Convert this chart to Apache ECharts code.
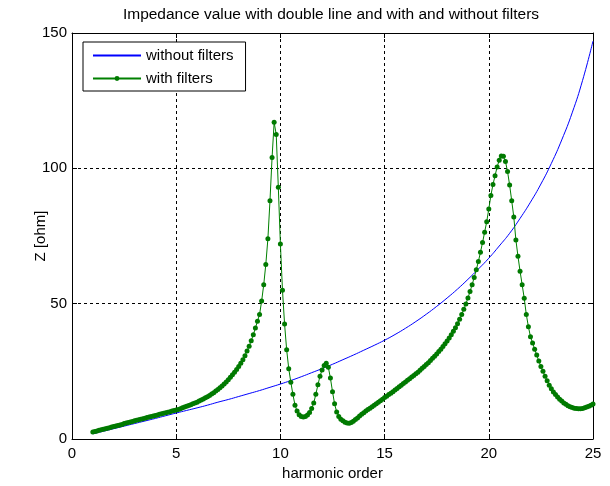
<!DOCTYPE html>
<html><head><meta charset="utf-8">
<script src="https://cdn.jsdelivr.net/npm/echarts@6/dist/echarts.min.js"></script>
<style>html,body{margin:0;padding:0;background:#fff}#c{width:610px;height:486px}</style>
</head><body><div id="c"></div>
<script>
const titleText = 'Impedance value with double line and with and without filters';
const xAxisName = 'harmonic order';
const yAxisName = 'Z [ohm]';
const seriesNames = ['without filters', 'with filters'];
const xTicks = [0, 5, 10, 15, 20, 25];
const yTicks = [0, 50, 100, 150];

// harmonic orders 1..25, step 0.5
const blueStart = 1, blueStep = 0.5;
const zWithoutFilters = [
  1.9, 2.85, 3.8, 4.75, 5.7, 6.65, 7.6, 8.6, 9.6, 10.55,
  11.5, 12.5, 13.6, 14.6, 15.7, 16.8, 17.9, 19.1, 20.3, 21.6,
  23.0, 24.5, 26.0, 27.6, 29.3, 31.0, 32.8, 34.6, 36.5, 38.6,
  40.9, 43.4, 46.1, 49.0, 52.1, 55.4, 59.0, 62.8, 66.8, 71.3,
  76.0, 81.5, 87.5, 94.2, 101.8, 110.5, 120.5, 132.5, 147.0
];

// harmonic orders 1..25, step 0.1
const greenStart = 1, greenStep = 0.1;
const zWithFilters = [
  2.6, 2.8, 3.0, 3.2, 3.4, 3.6, 3.8, 4.0, 4.2, 4.4,
  4.6, 4.8, 5.0, 5.2, 5.4, 5.7, 5.9, 6.1, 6.3, 6.5,
  6.7, 6.9, 7.1, 7.3, 7.5, 7.7, 7.9, 8.1, 8.3, 8.5,
  8.7, 8.9, 9.1, 9.3, 9.5, 9.7, 9.9, 10.1, 10.3, 10.5,
  10.7, 10.9, 11.2, 11.5, 11.8, 12.1, 12.4, 12.7, 13.0, 13.3,
  13.6, 14.0, 14.4, 14.8, 15.2, 15.6, 16.1, 16.6, 17.1, 17.7,
  18.3, 18.9, 19.6, 20.3, 21.1, 21.9, 22.8, 23.7, 24.7, 25.7,
  26.8, 28.0, 29.3, 30.8, 32.5, 34.3, 36.3, 38.5, 41.0, 43.5,
  46.0, 51.0, 57.0, 64.5, 74.0, 88.0, 104.0, 117.0, 112.5, 93.0,
  72.0, 55.0, 42.5, 33.0, 26.0, 21.0, 16.5, 12.5, 10.3, 9.0,
  8.3, 8.1, 8.3, 8.9, 9.8, 11.3, 13.3, 16.5, 20.0, 23.2,
  25.5, 27.2, 28.0, 26.5, 22.5, 17.5, 13.0, 10.0, 8.3, 7.3,
  6.7, 6.2, 5.9, 5.8, 6.1, 6.6, 7.2, 7.8, 8.5, 9.1,
  9.7, 10.3, 10.9, 11.4, 11.9, 12.5, 13.0, 13.6, 14.1, 14.7,
  15.3, 15.8, 16.4, 16.9, 17.5, 18.1, 18.7, 19.3, 19.9, 20.5,
  21.1, 21.7, 22.3, 22.9, 23.5, 24.1, 24.7, 25.4, 26.1, 26.8,
  27.5, 28.2, 29.0, 29.8, 30.6, 31.4, 32.3, 33.2, 34.2, 35.2,
  36.2, 37.3, 38.5, 39.8, 41.1, 42.6, 44.2, 46.0, 47.9, 49.9,
  52.1, 54.5, 57.0, 59.7, 62.5, 65.6, 69.0, 72.6, 76.4, 80.3,
  85.0, 90.0, 94.0, 97.3, 100.5, 103.0, 104.6, 104.5, 102.5, 98.8,
  93.8, 88.0, 82.0, 73.5, 67.5, 62.0, 57.0, 52.0, 46.0, 41.5,
  37.8, 35.5, 33.2, 31.0, 28.8, 26.8, 25.0, 23.2, 21.5, 19.9,
  18.6, 17.4, 16.4, 15.5, 14.7, 14.0, 13.3, 12.8, 12.3, 11.9,
  11.6, 11.4, 11.3, 11.2, 11.2, 11.3, 11.5, 11.8, 12.1, 12.5,
  12.9
];

function pairs(start, step, vals) {
  return vals.map((v, i) => [Math.round((start + i * step) * 100) / 100, v]);
}

const FONT = '"Liberation Sans", Arial, Helvetica, sans-serif';
const FS = 15;
const black = '#000';
const blue = '#0000ff';
const green = '#008000';
const greenDot = '#007a00';
const xMin = xTicks[0], xMax = xTicks[xTicks.length - 1], xInt = xTicks[1] - xTicks[0];
const yMin = yTicks[0], yMax = yTicks[yTicks.length - 1], yInt = yTicks[1] - yTicks[0];

function axisBase(extra) {
  return Object.assign({
    type: 'value',
    nameMoveOverlap: false,
    axisLine: { show: true, onZero: false, lineStyle: { color: black, width: 1 } },
    axisTick: { show: true, inside: true, length: 5, lineStyle: { color: black, width: 1 } },
    axisLabel: { color: black, fontSize: FS, fontFamily: FONT },
    splitLine: { show: true, lineStyle: { color: black, width: 1, type: [3, 3] } }
  }, extra);
}

const chart = echarts.init(document.getElementById('c'), null, { renderer: 'canvas' });
chart.setOption({
  animation: false,
  backgroundColor: '#fff',
  title: {
    text: titleText, left: 331, top: 7, padding: 0, textAlign: 'center',
    textStyle: { fontSize: 15.5, fontWeight: 'normal', color: black, fontFamily: FONT }
  },
  grid: { left: 72, right: 17, top: 33, bottom: 42, containLabel: false },
  legend: {
    show: true, orient: 'vertical', left: 83, top: 42,
    padding: [6, 12, 5, 9], itemWidth: 48, itemHeight: 6, itemGap: 8,
    backgroundColor: '#fff', borderColor: black, borderWidth: 1, borderRadius: 0,
    textStyle: { color: black, fontSize: FS, fontFamily: FONT },
    data: [
      { name: seriesNames[0], itemStyle: { opacity: 0 } },
      { name: seriesNames[1] }
    ]
  },
  xAxis: [
    axisBase({ min: xMin, max: xMax, interval: xInt, position: 'bottom',
      axisLabel: { color: black, fontSize: FS, fontFamily: FONT, margin: 7 },
      name: xAxisName, nameLocation: 'middle', nameGap: 27,
      nameTextStyle: { color: black, fontSize: FS, fontFamily: FONT } }),
    axisBase({ min: xMin, max: xMax, interval: xInt, position: 'top',
      axisLabel: { show: false }, splitLine: { show: false } })
  ],
  yAxis: [
    axisBase({ min: yMin, max: yMax, interval: yInt, position: 'left',
      axisLabel: { color: black, fontSize: FS, fontFamily: FONT, margin: 5 },
      name: yAxisName, nameLocation: 'middle', nameGap: 24,
      nameTextStyle: { color: black, fontSize: FS, fontFamily: FONT } }),
    axisBase({ min: yMin, max: yMax, interval: yInt, position: 'right',
      axisLabel: { show: false }, splitLine: { show: false } })
  ],
  series: [
    {
      type: 'line', name: seriesNames[0], xAxisIndex: 0, yAxisIndex: 0,
      data: pairs(blueStart, blueStep, zWithoutFilters),
      symbol: 'none', smooth: true,
      lineStyle: { color: blue, width: 1 }, itemStyle: { color: blue }, z: 2
    },
    {
      type: 'line', name: seriesNames[1], xAxisIndex: 0, yAxisIndex: 0,
      data: pairs(greenStart, greenStep, zWithFilters),
      symbol: 'circle', symbolSize: 5, showSymbol: true, showAllSymbol: true,
      lineStyle: { color: green, width: 1 }, itemStyle: { color: greenDot }, z: 3
    }
  ]
});
</script></body></html>
